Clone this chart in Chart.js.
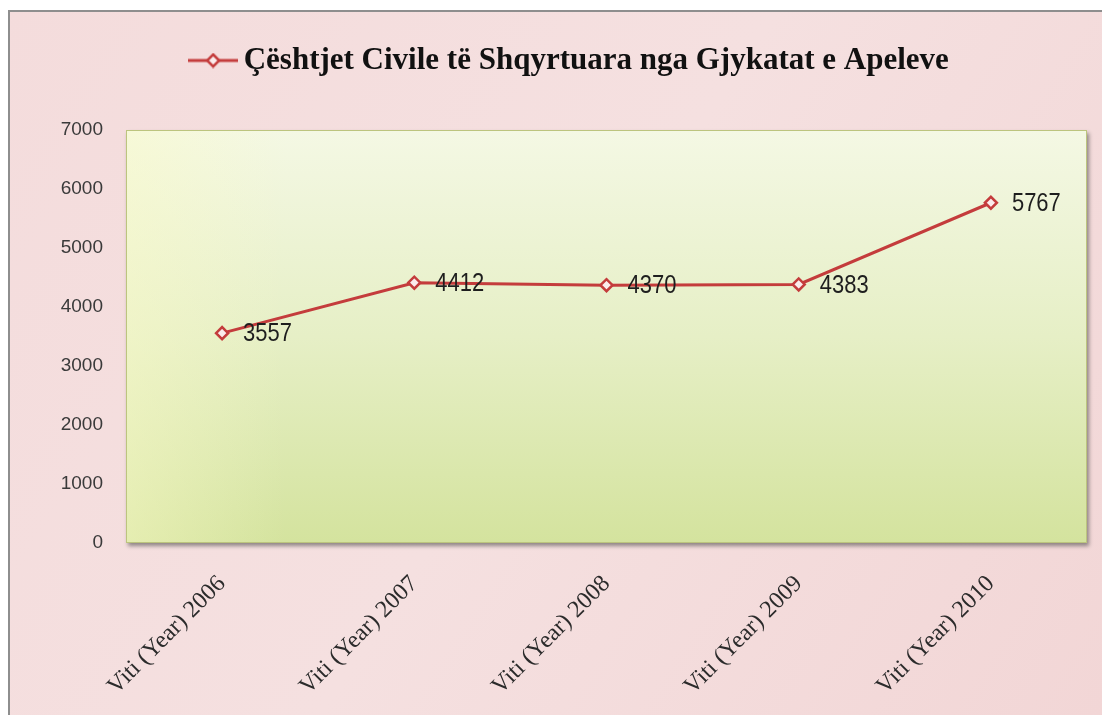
<!DOCTYPE html>
<html>
<head>
<meta charset="utf-8">
<script src="https://cdn.jsdelivr.net/npm/chart.js@4/dist/chart.umd.min.js"></script>
<style>
   html, body { margin: 0; padding: 0; background: #fff; }
   #wrap { width: 1102px; height: 715px; position: relative; }
</style>
</head>
<body>
<div id="wrap"><canvas id="myChart"></canvas></div>
<script>
// ============  data  ============
const seriesName = 'Çështjet Civile të Shqyrtuara nga Gjykatat e Apeleve';
const years = ['Viti (Year) 2006', 'Viti (Year) 2007', 'Viti (Year) 2008', 'Viti (Year) 2009', 'Viti (Year) 2010'];
const cases = [3557, 4412, 4370, 4383, 5767];
const yMin = 0;
const yMax = 7000;
const yStep = 1000;

const lineColor = '#c43c3c';
const numFont = "'Liberation Sans', Arial, sans-serif";
const serifFont = "'Liberation Serif', 'DejaVu Serif', serif";

// legend marker: line with a diamond on it
function legendMarker() {
   const c = document.createElement('canvas');
   c.width = 50;
   c.height = 16;
   const x = c.getContext('2d');
   x.strokeStyle = lineColor;
   x.lineWidth = 3;
   x.beginPath(); x.moveTo(0, 8); x.lineTo(50, 8); x.stroke();
   x.beginPath();
   x.moveTo(25, 2); x.lineTo(31, 8); x.lineTo(25, 14); x.lineTo(19, 8);
   x.closePath();
   x.fillStyle = '#fbecec';
   x.fill();
   x.lineWidth = 2.5;
   x.stroke();
   return c;
}

// pink page + green plot area
const backdrop = {
   id: 'backdrop',
   beforeDraw(chart) {
      const { ctx, width, height, chartArea: a } = chart;
      ctx.save();
      ctx.fillStyle = '#fff';
      ctx.fillRect(0, 0, width, height);
      let g = ctx.createLinearGradient(0, 0, width, height);
      g.addColorStop(0, '#f4dcdc');
      g.addColorStop(0.5, '#f5e0e0');
      g.addColorStop(1, '#f2d6d6');
      ctx.fillStyle = g;
      ctx.fillRect(9, 11, width - 9, height - 11);
      ctx.strokeStyle = '#8e8e8e';
      ctx.lineWidth = 2;
      ctx.beginPath();
      ctx.moveTo(9, height); ctx.lineTo(9, 11); ctx.lineTo(width, 11);
      ctx.stroke();

      ctx.shadowColor = 'rgba(60, 60, 60, 0.55)';
      ctx.shadowBlur = 4;
      ctx.shadowOffsetX = 2;
      ctx.shadowOffsetY = 3;
      g = ctx.createLinearGradient(0, a.top, 0, a.bottom);
      g.addColorStop(0, '#f4f8e4');
      g.addColorStop(0.5, '#e6efc6');
      g.addColorStop(1, '#d4e39e');
      ctx.fillStyle = g;
      ctx.fillRect(a.left, a.top, a.width, a.height);
      ctx.shadowColor = 'transparent';
      // faint yellow wash on the left
      g = ctx.createLinearGradient(a.left, 0, a.left + 160, 0);
      g.addColorStop(0, 'rgba(250, 250, 200, 0.45)');
      g.addColorStop(1, 'rgba(250, 250, 200, 0)');
      ctx.fillStyle = g;
      ctx.fillRect(a.left, a.top, 160, a.height);
      ctx.strokeStyle = '#bcc47e';
      ctx.lineWidth = 1;
      ctx.strokeRect(a.left + 0.5, a.top + 0.5, a.width - 1, a.height - 1);
      ctx.restore();
   }
};

// value next to every point (glyphs a little taller, like the original)
const valueLabels = {
   id: 'valueLabels',
   afterDatasetsDraw(chart) {
      const { ctx } = chart;
      const meta = chart.getDatasetMeta(0);
      const vals = chart.data.datasets[0].data;
      ctx.save();
      ctx.font = '22px ' + numFont;
      ctx.fillStyle = '#1e1e1e';
      ctx.textAlign = 'left';
      ctx.textBaseline = 'middle';
      meta.data.forEach((pt, i) => {
         ctx.save();
         ctx.translate(pt.x + 21, pt.y + 1);
         ctx.scale(1, 1.2);
         ctx.fillText(String(vals[i]), 0, 0);
         ctx.restore();
      });
      ctx.restore();
   }
};

let ctx = document.getElementById('myChart').getContext('2d');
let myChart = new Chart(ctx, {
   type: 'line',
   data: {
      labels: years,
      datasets: [{
         label: seriesName,
         data: cases,
         borderColor: lineColor,
         backgroundColor: '#fbecec',
         borderWidth: 3,
         pointStyle: 'rectRot',
         pointRadius: 6,
         pointBorderWidth: 2.5,
         pointBorderColor: lineColor,
         pointBackgroundColor: '#fbecec',
         tension: 0,
      }],
   },
   options: {
      responsive: true,
      maintainAspectRatio: false,
      animation: false,
      layout: {
         padding: { left: 60, right: 15, top: 0, bottom: 0 },
      },
      scales: {
         x: {
            offset: true,
            grid: { display: false, drawTicks: false },
            border: { display: false },
            ticks: {
               autoSkip: false,
               maxRotation: 45,
               minRotation: 45,
               padding: 27,
               color: '#2b2b2b',
               font: { family: serifFont, size: 24 },
            },
            afterFit: function(scale) { scale.height = 172; },
         },
         y: {
            min: yMin,
            max: yMax,
            grid: { display: false, drawTicks: false },
            border: { display: false },
            ticks: {
               stepSize: yStep,
               padding: 23,
               color: '#3a3a3a',
               font: { family: numFont, size: 19 },
               callback: function(val) { return String(val); },
            },
            afterFit: function(scale) { scale.width = 66; },
         },
      },
      plugins: {
         legend: {
            display: true,
            position: 'top',
            labels: {
               usePointStyle: true,
               pointStyle: legendMarker(),
               pointStyleWidth: 30,
               padding: 45,
               color: '#111',
               font: { family: serifFont, size: 31, weight: 'bold' },
            },
         },
         subtitle: {
            display: true,
            text: '',
            weight: 500,
            padding: { top: 32, bottom: 0 },
            font: { size: 10 },
         },
         tooltip: { enabled: false },
      },
   },
   plugins: [backdrop, valueLabels],
});
</script>
</body>
</html>
